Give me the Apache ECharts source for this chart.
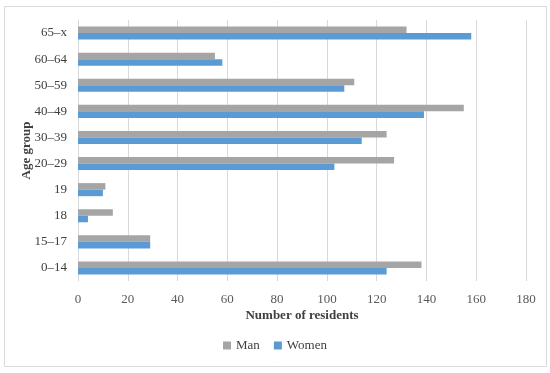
<!DOCTYPE html>
<html>
<head>
<meta charset="utf-8">
<script src="https://cdn.jsdelivr.net/npm/echarts@6/dist/echarts.min.js"></script>
<style>html,body{margin:0;padding:0;background:#fff;}#c{width:550px;height:373px;}</style>
</head>
<body>
<div id="c"></div>
<script>
const categories = ['0–14','15–17','18','19','20–29','30–39','40–49','50–59','60–64','65–x'];
const manValues = [138, 29, 14, 11, 127, 124, 155, 111, 55, 132];
const womenValues = [124, 29, 4, 10, 103, 114, 139, 107, 58, 158];
const xTicks = [0, 20, 40, 60, 80, 100, 120, 140, 160, 180];

const FONT = '"Liberation Serif", "DejaVu Serif", serif';
const chart = echarts.init(document.getElementById('c'));
chart.setOption({
  animation: false,
  textStyle: { fontFamily: FONT },
  graphic: [{
    type: 'rect', shape: { x: 4.5, y: 6.5, width: 542, height: 360 },
    style: { fill: 'none', stroke: '#d9d9d9', lineWidth: 1 }, silent: true
  }],
  grid: { left: 78, right: 24, top: 20, bottom: 92 },
  legend: {
    data: ['Man', 'Women'], bottom: 16, left: 'center',
    itemWidth: 8, itemHeight: 8, itemGap: 14, icon: 'rect',
    textStyle: { fontFamily: FONT, fontSize: 13, color: '#404040' }
  },
  xAxis: {
    type: 'value', min: xTicks[0], max: xTicks[xTicks.length - 1], interval: 20,
    name: 'Number of residents', nameLocation: 'middle', nameGap: 28,
    nameMoveOverlap: false,
    nameTextStyle: { fontFamily: FONT, fontSize: 13, color: '#404040', fontWeight: 'bold' },
    axisLine: { show: false }, axisTick: { show: false },
    axisLabel: { fontFamily: FONT, fontSize: 13, color: '#595959', margin: 12 },
    splitLine: { lineStyle: { color: '#d9d9d9', width: 1 } }
  },
  yAxis: {
    type: 'category', data: categories,
    name: 'Age group', nameLocation: 'middle', nameGap: 45, nameRotate: 90,
    nameMoveOverlap: false,
    nameTextStyle: { fontFamily: FONT, fontSize: 13, color: '#404040', fontWeight: 'bold' },
    axisLine: { show: true, lineStyle: { color: '#d9d9d9' } }, axisTick: { show: false },
    axisLabel: { fontFamily: FONT, fontSize: 13, color: '#404040', margin: 11 }
  },
  series: [
    { name: 'Man', type: 'bar', data: manValues, itemStyle: { color: '#a5a5a5' },
      barCategoryGap: '50%', barGap: '0%' },
    { name: 'Women', type: 'bar', data: womenValues, itemStyle: { color: '#5b9bd5' },
      barCategoryGap: '50%', barGap: '0%' }
  ]
});
</script>
</body>
</html>
